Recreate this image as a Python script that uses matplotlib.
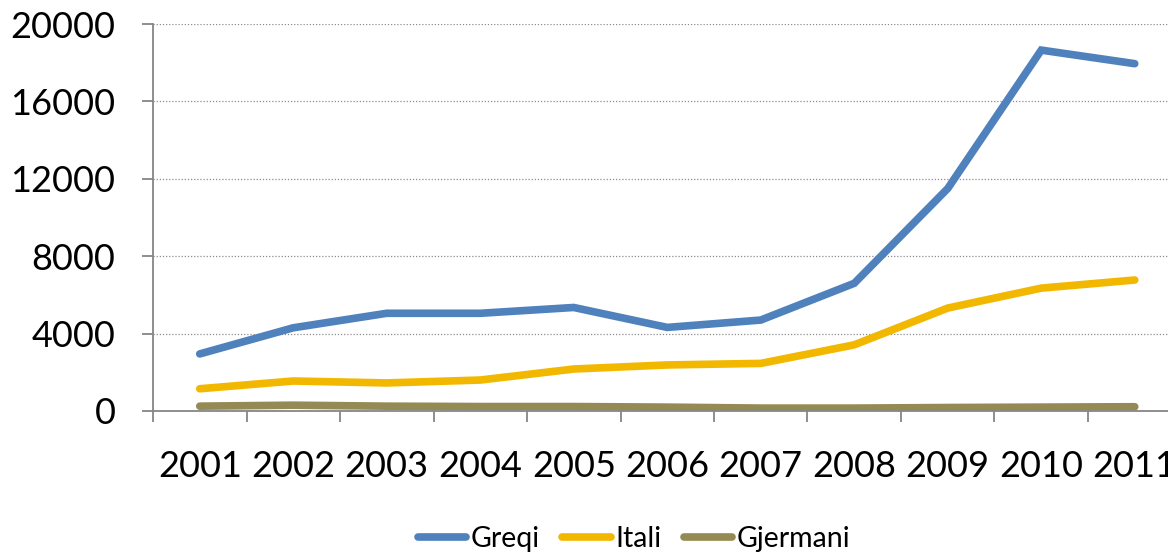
import matplotlib
matplotlib.use("Agg")
import matplotlib.pyplot as plt

# ── Data ─────────────────────────────────────────────────────────────────────
years = ["2001", "2002", "2003", "2004", "2005", "2006",
         "2007", "2008", "2009", "2010", "2011"]
greqi = [2950, 4300, 5050, 5050, 5350, 4320, 4700, 6600, 11500, 18650, 17950]
itali = [1150, 1550, 1450, 1600, 2170, 2380, 2460, 3420, 5320, 6350, 6770]
gjermani = [250, 300, 250, 230, 230, 200, 150, 150, 180, 200, 220]
y_ticks = [0, 4000, 8000, 12000, 16000, 20000]

COLORS = {"Greqi": "#4F81BD", "Itali": "#F2B800", "Gjermani": "#948A54"}

plt.rcParams["font.family"] = ["Lato", "DejaVu Sans"]

fig = plt.figure(figsize=(11.68, 5.54), dpi=100)
W, H = 1168, 554
ax = fig.add_axes([153 / W, 1 - 411 / H, (1181.5 - 153) / W, 387 / H])

x = list(range(len(years)))
for name, vals in (("Greqi", greqi), ("Itali", itali), ("Gjermani", gjermani)):
    ax.plot(x, vals, color=COLORS[name], linewidth=5.5,
            solid_capstyle="round", solid_joinstyle="miter", label=name)

ax.set_xlim(-0.5, len(years) - 0.5)
ax.set_ylim(0, 20000)
ax.set_yticks(y_ticks)
ax.set_yticklabels([str(v) for v in y_ticks])
ax.grid(axis="y", color="#8C8C8C", linestyle=(0, (1, 1.5)), linewidth=0.9)
ax.set_axisbelow(True)

# category boundary ticks, labels centred between them
ax.set_xticks([i - 0.5 for i in range(len(years) + 1)])
ax.set_xticklabels([])
ax.set_xticks(x, minor=True)
ax.set_xticklabels(years, minor=True)
ax.tick_params(axis="x", which="minor", length=0, pad=28, labelsize=26)
ax.tick_params(axis="x", which="major", length=8, color="#868686", width=1.3)
ax.tick_params(axis="y", length=8, color="#868686", width=1.3, pad=19,
               labelsize=26)

for side in ("top", "right"):
    ax.spines[side].set_visible(False)
for side in ("left", "bottom"):
    ax.spines[side].set_color("#868686")
    ax.spines[side].set_linewidth(1.3)

fig.legend(loc="center", bbox_to_anchor=(634 / W, 1 - 539 / H), ncol=3,
           frameon=False, fontsize=20.5, handlelength=1.7, handletextpad=0.15,
           columnspacing=0.8)

fig.savefig("out.png", dpi=100)
